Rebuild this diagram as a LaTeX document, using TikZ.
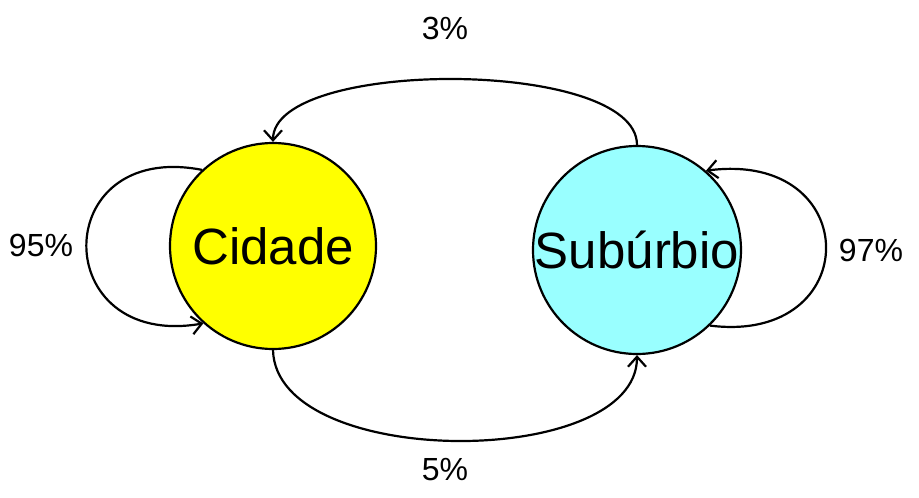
\documentclass[tikz,border=0pt]{standalone}
\usepackage{fontspec}
\setmainfont{Liberation Sans}
\usetikzlibrary{arrows.meta}
\definecolor{cyanfill}{RGB}{153,255,255}
\definecolor{yellowfill}{RGB}{255,255,0}
\begin{document}
\begin{tikzpicture}[x=1pt,y=-1pt,
  state/.style={circle,draw=black,line width=2.2pt,inner sep=0pt,font=\fontsize{51}{51}\selectfont},
  conn/.style={line width=2.2pt,-{Straight Barb[length=10pt,width=18pt,line width=2.2pt]}},
  lbl/.style={font=\fontsize{32}{32}\selectfont,inner sep=0pt}]
\useasboundingbox (0,0) rectangle (919,498);
\node[state,fill=yellowfill,minimum size=206pt] (cid) at (273,246) {Cidade};
\node[state,fill=cyanfill,minimum size=208pt] (sub) at (637,250) {Subúrbio};
\draw[conn] (sub.90) .. controls (637,58) and (273,58) .. (cid.90);
\draw[conn] (cid.270) .. controls (276,470) and (637,470) .. (sub.270);
\draw[conn] (cid.133) .. controls (48,140) and (48,350) .. (cid.228);
\draw[conn] (sub.-46) .. controls (865,345) and (865,150) .. (sub.49);
\node[lbl] (l3) at (445,28) {3\%};
\node[lbl] (l5) at (445,470) {5\%};
\node[lbl] (l95) at (41,245) {95\%};
\node[lbl] (l97) at (871,250) {97\%};
\end{tikzpicture}
\end{document}
